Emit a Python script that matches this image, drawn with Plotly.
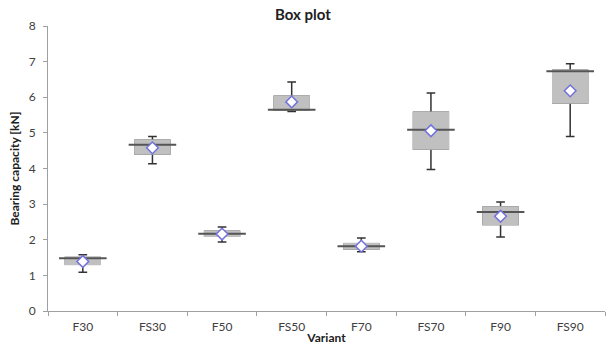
import plotly.graph_objects as go

variants = ["F30", "FS30", "F50", "FS50", "F70", "FS70", "F90", "FS90"]
v_min = [1.09, 4.13, 1.94, 5.60, 1.66, 3.97, 2.08, 4.90]
v_q1 = [1.31, 4.41, 2.10, 5.65, 1.74, 4.55, 2.43, 5.84]
v_median = [1.48, 4.67, 2.17, 5.65, 1.82, 5.09, 2.78, 6.73]
v_q3 = [1.50, 4.79, 2.24, 6.03, 1.89, 5.58, 2.92, 6.76]
v_max = [1.58, 4.90, 2.36, 6.43, 2.05, 6.12, 3.06, 6.94]
v_mean = [1.39, 4.58, 2.16, 5.87, 1.82, 5.06, 2.66, 6.18]

FONT = "Lato"
BOX_FILL = "#c0c0c0"
fig = go.Figure()

# whiskers (dark)
fig.add_trace(go.Box(
    x=variants, q1=v_q1, median=v_median, q3=v_q3,
    lowerfence=v_min, upperfence=v_max,
    fillcolor=BOX_FILL, line=dict(color="#333333", width=1.5),
    whiskerwidth=0.25, width=0.5, boxpoints=False, showlegend=False,
    hoverinfo="skip"))
# box body without outline
fig.add_trace(go.Box(
    x=variants, q1=v_q1, median=v_q1, q3=v_q3,
    lowerfence=v_q1, upperfence=v_q3,
    fillcolor=BOX_FILL, line=dict(color=BOX_FILL, width=1.6),
    whiskerwidth=0, width=0.5, boxpoints=False, showlegend=False,
    hoverinfo="skip"))
# median line
fig.add_trace(go.Scatter(
    x=variants, y=v_median, mode="markers",
    marker=dict(symbol="line-ew", size=34, line=dict(color="#555555", width=2)),
    showlegend=False))
# mean diamonds
fig.add_trace(go.Scatter(
    x=variants, y=v_mean, mode="markers",
    marker=dict(symbol="diamond", size=9, color="white",
                line=dict(color="#7272dc", width=1.5)),
    showlegend=False))

fig.update_layout(
    width=606, height=349,
    margin=dict(l=48, r=1, t=26, b=38),
    paper_bgcolor="white", plot_bgcolor="white",
    boxmode="overlay",
    font=dict(family=FONT, size=11, color="#404040"),
    title=dict(text="<b>Box plot</b>", x=0.5, xanchor="center", y=0.957, yanchor="middle",
               font=dict(family=FONT, size=15, color="#202020")),
    xaxis=dict(
        title=dict(text="<b>Variant</b>", standoff=0, font=dict(size=12, color="#202020")),
        range=[-0.5, 7.5],
        showline=True, linecolor="#a0a0a0", linewidth=1,
        ticks="outside", tickson="boundaries", ticklen=4, tickcolor="#a0a0a0",
        ticklabelstandoff=5,
        showgrid=False, zeroline=False, tickfont=dict(size=12, color="#404040")),
    yaxis=dict(
        title=dict(text="<b>Bearing capacity [kN]</b>", standoff=6, font=dict(size=12, color="#202020")),
        range=[0, 8], dtick=1, showline=True, linecolor="#a0a0a0", linewidth=1,
        ticks="outside", ticklen=4, tickcolor="#a0a0a0",
        ticklabelstandoff=5,
        showgrid=False, zeroline=False, tickfont=dict(size=12, color="#404040")),
)

fig.write_html("out.html")
